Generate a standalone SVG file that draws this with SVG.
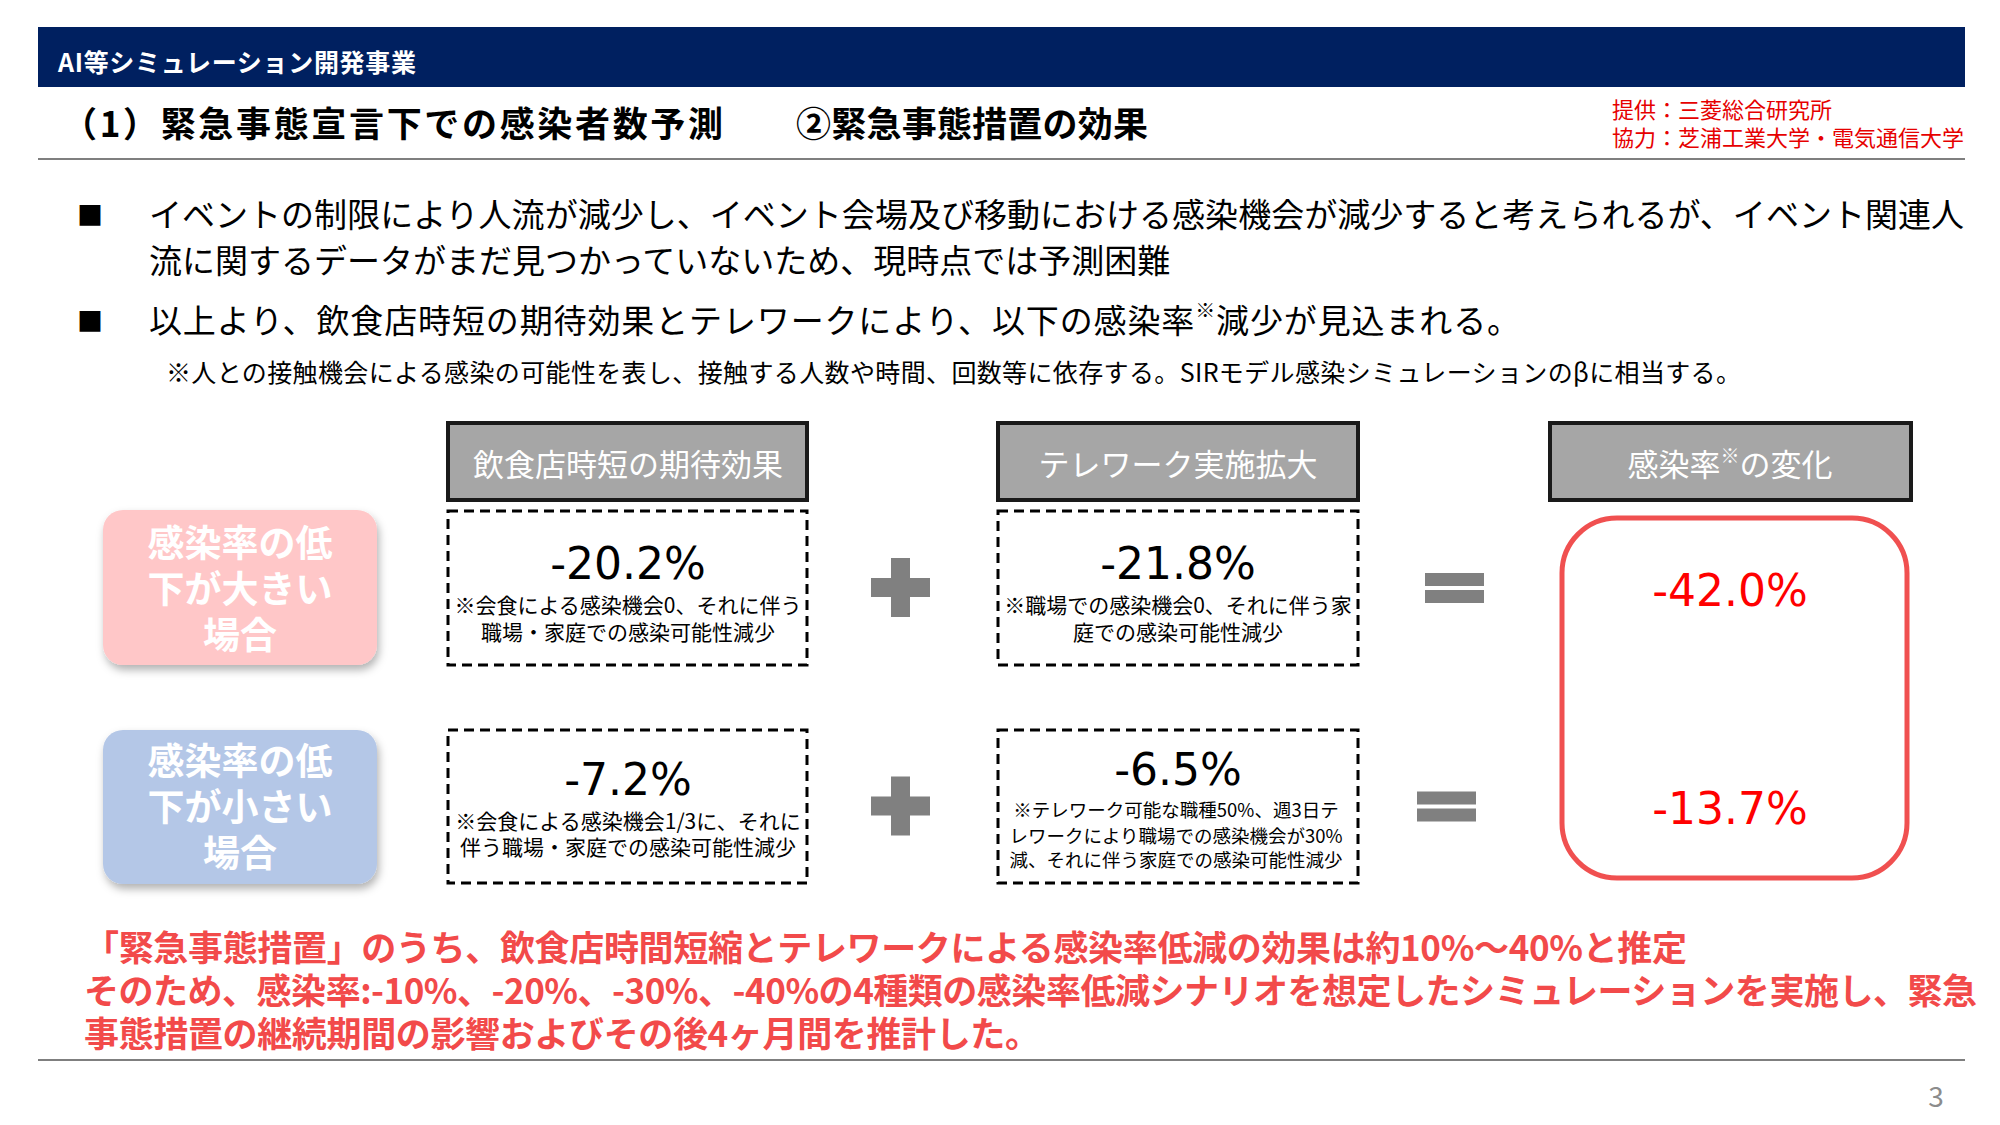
<svg xmlns="http://www.w3.org/2000/svg" width="2000" height="1125" viewBox="0 0 2000 1125">
<style>
text{font-family:"Noto Sans CJK JP","Noto Sans",sans-serif;dominant-baseline:central}
.num{font-family:"DejaVu Sans",sans-serif;font-size:44px;text-anchor:middle}
.hdr{fill:#a6a6a6;stroke:#1a1a1a;stroke-width:4}
.hdrt{fill:#fff;font-size:31px;text-anchor:middle}
.dash{fill:#fff;stroke:#000;stroke-width:3;stroke-dasharray:10 6}
.note{font-size:21px;text-anchor:middle;fill:#000}
.note2{font-size:18.5px;text-anchor:middle;fill:#000}
.lbl{fill:#fff;font-size:37px;font-weight:bold;text-anchor:middle}
.op{fill:#808080}
.body{font-size:33px;fill:#000}
.red{fill:#f24a4a;font-size:35px;font-weight:bold}
.rule{stroke:#7f7f7f;stroke-width:2}
</style>
<defs>
<filter id="sh" x="-10%" y="-10%" width="130%" height="140%">
<feDropShadow dx="2" dy="5" stdDeviation="4" flood-color="#000" flood-opacity="0.3"/>
</filter>
<path id="plus" d="M-9.5,-29.5h19v20h20v19h-20v20h-19v-20h-20v-19h20z"/>
<path id="eq" d="M-29.5,-15h59v13h-59zM-29.5,2h59v13h-59z"/>
</defs>
<rect width="2000" height="1125" fill="#fff"/>

<g id="header">
<rect x="38" y="27" width="1927" height="60" fill="#002060"/>
<text x="58" y="61" fill="#fff" font-size="25" font-weight="bold" textLength="358">AI等シミュレーション開発事業</text>
<text x="62" y="121" font-size="35" font-weight="bold" fill="#000"><tspan textLength="661">（1）緊急事態宣言下での感染者数予測</tspan><tspan x="796" textLength="352">②緊急事態措置の効果</tspan></text>
<text x="1612" y="108" font-size="22" fill="#e60000">提供：三菱総合研究所</text>
<text x="1612" y="136" font-size="22" fill="#e60000">協力：芝浦工業大学・電気通信大学</text>
<line class="rule" x1="38" y1="159" x2="1965" y2="159"/>
</g>

<g id="bullets">
<text x="77" y="213" font-size="26">■</text>
<text class="body" x="149" y="213" textLength="1815">イベントの制限により人流が減少し、イベント会場及び移動における感染機会が減少すると考えられるが、イベント関連人</text>
<text class="body" x="149" y="259">流に関するデータがまだ見つかっていないため、現時点では予測困難</text>
<text x="77" y="319" font-size="26">■</text>
<text class="body" x="149" y="319" textLength="1371">以上より、飲食店時短の期待効果とテレワークにより、以下の感染率<tspan font-size="20" dy="-10">※</tspan><tspan dy="10">減少が見込まれる。</tspan></text>
<text x="166" y="371" font-size="25" textLength="1575">※人との接触機会による感染の可能性を表し、接触する人数や時間、回数等に依存する。SIRモデル感染シミュレーションのβに相当する。</text>
</g>

<g id="col-header-1">
<rect class="hdr" x="448" y="423" width="359" height="77"/>
<text class="hdrt" x="628" y="462">飲食店時短の期待効果</text>
</g>
<g id="col-header-2">
<rect class="hdr" x="998" y="423" width="360" height="77"/>
<text class="hdrt" x="1178" y="462">テレワーク実施拡大</text>
</g>
<g id="col-header-3">
<rect class="hdr" x="1550" y="423" width="361" height="77"/>
<text class="hdrt" x="1730" y="462">感染率<tspan font-size="19" dy="-8">※</tspan><tspan dy="8">の変化</tspan></text>
</g>

<g id="label-large">
<rect x="103" y="510" width="274" height="155" rx="20" fill="#ffc7c8" filter="url(#sh)"/>
<text class="lbl" x="240" y="541">感染率の低<tspan x="240" dy="46">下が大きい</tspan><tspan x="240" dy="46">場合</tspan></text>
</g>
<g id="label-small">
<rect x="103" y="730" width="274" height="154" rx="20" fill="#b4c7e7" filter="url(#sh)"/>
<text class="lbl" x="240" y="759">感染率の低<tspan x="240" dy="46">下が小さい</tspan><tspan x="240" dy="46">場合</tspan></text>
</g>

<g id="food-large">
<rect class="dash" x="448" y="511" width="359" height="154"/>
<text class="num" x="628" y="563">-20.2%</text>
<text class="note" x="628" y="604">※会食による感染機会0、それに伴う</text>
<text class="note" x="628" y="631">職場・家庭での感染可能性減少</text>
</g>
<g id="tele-large">
<rect class="dash" x="998" y="511" width="360" height="154"/>
<text class="num" x="1178" y="563">-21.8%</text>
<text class="note" x="1178" y="604">※職場での感染機会0、それに伴う家</text>
<text class="note" x="1178" y="631">庭での感染可能性減少</text>
</g>
<g id="food-small">
<rect class="dash" x="448" y="730" width="359" height="153"/>
<text class="num" x="628" y="779">-7.2%</text>
<text class="note" x="628" y="820">※会食による感染機会1/3に、それに</text>
<text class="note" x="628" y="846">伴う職場・家庭での感染可能性減少</text>
</g>
<g id="tele-small">
<rect class="dash" x="998" y="730" width="360" height="153"/>
<text class="num" x="1178" y="769">-6.5%</text>
<text class="note2" x="1176" y="809">※テレワーク可能な職種50%、週3日テ</text>
<text class="note2" x="1176" y="835">レワークにより職場での感染機会が30%</text>
<text class="note2" x="1176" y="859">減、それに伴う家庭での感染可能性減少</text>
</g>

<g id="result">
<rect x="1562" y="518" width="345" height="360" rx="55" fill="#fff" stroke="#f05050" stroke-width="5"/>
<text class="num" x="1730" y="590" fill="#ff0000">-42.0%</text>
<text class="num" x="1730" y="808" fill="#ff0000">-13.7%</text>
</g>

<g id="connectors">
<use href="#plus" class="op" x="900.5" y="587.5"/>
<use href="#plus" class="op" x="900.5" y="806"/>
<use href="#eq" class="op" x="1454.5" y="588"/>
<use href="#eq" class="op" x="1446.5" y="806.5"/>
</g>

<g id="conclusion">
<text class="red" x="84" y="945" textLength="1603">「緊急事態措置」のうち、飲食店時間短縮とテレワークによる感染率低減の効果は約10%～40%と推定</text>
<text class="red" x="84" y="988" textLength="1893">そのため、感染率:-10%、-20%、-30%、-40%の4種類の感染率低減シナリオを想定したシミュレーションを実施し、緊急</text>
<text class="red" x="84" y="1031" textLength="956">事態措置の継続期間の影響およびその後4ヶ月間を推計した。</text>
<line class="rule" x1="38" y1="1060" x2="1965" y2="1060"/>
<text x="1936" y="1095" font-family="Liberation Sans, sans-serif" font-size="28" fill="#8c8c8c" text-anchor="middle">3</text>
</g>
</svg>
